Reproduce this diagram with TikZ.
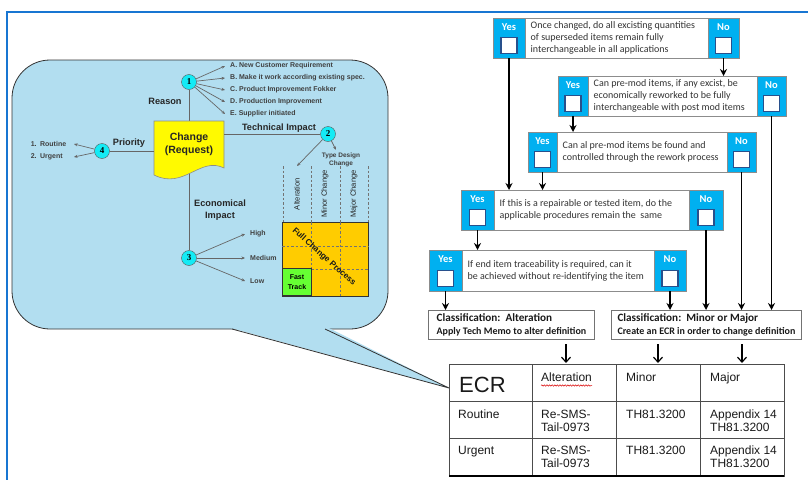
\documentclass[tikz,border=0pt]{standalone}
\usepackage{fontspec}
\setmainfont{Liberation Sans}
\newfontfamily\calibrifont{Carlito}
\newfontfamily\serifnum{Liberation Serif}
\usetikzlibrary{arrows.meta,decorations.pathmorphing}

\definecolor{bubble}{RGB}{178,222,240}
\definecolor{framblue}{RGB}{24,118,210}
\definecolor{qblue}{RGB}{0,176,240}
\definecolor{numcyan}{RGB}{20,235,245}
\definecolor{docyellow}{RGB}{255,250,0}
\definecolor{gridorange}{RGB}{255,204,0}
\definecolor{fastgreen}{RGB}{102,255,51}
\definecolor{ticknavy}{RGB}{40,80,140}

\begin{document}
\begin{tikzpicture}[x=1pt, y=-1pt,
    num/.style={circle, draw=black!65, fill=numcyan, minimum size=15pt, inner sep=0pt,
        font=\serifnum\bfseries\fontsize{9}{9}\selectfont},
    head/.style={font=\bfseries\fontsize{9.2}{11.5}\selectfont, text=black!85, align=center, inner sep=0pt},
    item/.style={font=\bfseries\fontsize{7}{8}\selectfont, text=black!75, inner xsep=5pt, inner ysep=1pt},
    lead/.style={draw=black!60, line width=0.7pt, -{Stealth[length=3.5pt, width=3pt]}},
    link/.style={draw=black!60, line width=0.8pt},
    colhead/.style={rotate=90, font=\fontsize{7.6}{8}\selectfont, text=black!85, inner sep=0pt},
    tdash/.style={draw=black!55, line width=0.6pt, dash pattern=on 2.5pt off 2pt},
    qframe/.style={draw=black!45, line width=0.8pt, fill=white, inner sep=0pt, outer sep=0pt, anchor=north west},
    qcol/.style={qframe, fill=qblue},
    yn/.style={text=white, font=\calibrifont\bfseries\fontsize{10.5}{10}\selectfont, inner sep=0pt},
    tickbox/.style={draw=ticknavy, line width=1.2pt, fill=white, minimum size=16pt, inner sep=0pt},
    qtext/.style={font=\calibrifont\fontsize{10}{12}\selectfont, text=black!80, align=left, anchor=west, inner sep=0pt},
    cls/.style={draw=black!55, line width=0.9pt, anchor=north west, minimum height=29pt, inner sep=0pt,
        align=left, text=black!90, font=\calibrifont\bfseries\fontsize{10}{13}\selectfont},
    flow/.style={line width=1.3pt, -{Stealth[length=7pt, width=7pt]}},
    tarrow/.style={line width=1.2pt, -{Straight Barb[length=5pt, width=9pt]}},
    tline/.style={draw=black!70, line width=0.8pt},
    cell/.style={anchor=base west, inner sep=0pt, align=left, text=black!90, font=\fontsize{12}{13.5}\selectfont}
]
    \useasboundingbox (0,0) rectangle (808,479);
    % frame
    \draw[framblue, line width=2pt] (6.5,490) -- (6.5,11.5) -- (820,11.5);

    % callout bubble
    \draw[draw=black!80, line width=0.8pt, fill=bubble, rounded corners=38pt] (12,60) rectangle (388,329);
    \fill[bubble] (229,327.5) -- (449,388) -- (328,327.5) -- cycle;
    \draw[black!80, line width=0.8pt] (232,329) -- (449,388) -- (325,329);

    % change request
    \node[num] (c1) at (189,82) {1};
    \node[num] (c2) at (328,134) {2};
    \node[num] (c3) at (189,258) {3};
    \node[num] (c4) at (102,151) {4};
    \draw[link] (c1) -- (c3);
    \draw[draw=black!45, line width=0.6pt, fill=docyellow] (154,121) -- (224,121) -- (224,168)
        .. controls (200,156) and (184,190) .. (154,175) -- cycle;
    \node[head, font=\bfseries\fontsize{10.5}{13}\selectfont, minimum width=70pt, minimum height=47pt, anchor=north]
        (chg) at (189,121) {Change\\(Request)};
    \draw[link] (c4) -- (c4 -| chg.west);
    \draw[link] (chg.east |- c2) -- (c2);

    \node[head] (rsn) at (165,101) {Reason};
    \node[head] (pri) at (129,143) {Priority};
    \node[head] (tech) at (279,128) {Technical Impact};
    \node[head] (econ) at (220,210) {Economical\\Impact};

    \foreach \t [count=\i] in {A. New Customer Requirement, B. Make it work according existing spec.,
        C. Product Improvement Fokker, D. Production Improvement, E. Supplier initiated} {
        \node[item, anchor=west] (why\i) at (225,{54+12*\i}) {\t};
        \draw[lead] (c1) -- (why\i.west);
    }
    \foreach \t/\y [count=\i] in {1. Routine/144, 2. Urgent/157} {
        \node[item, anchor=east, text width=38pt, align=left] (urg\i) at (74,\y) {\t};
        \draw[lead] (c4) -- (urg\i.east);
    }
    \foreach \t/\y [count=\i] in {High/234, Medium/258, Low/281} {
        \node[item, anchor=west] (cost\i) at (245,\y) {\t};
        \draw[lead] (c3) -- (cost\i.west);
    }

    % type design change
    \node[item, font=\bfseries\fontsize{6.5}{8}\selectfont, align=center, inner sep=3pt] (tdc) at (341,160) {Type Design\\Change};
    \coordinate (altTop) at (297,166);
    \draw[lead] (c2) -- (tdc);
    \draw[lead] (c2) -- (altTop);
    \foreach \t/\x [count=\i] in {Alteration/297, Minor Change/325, Major Change/354}
        \node[colhead] (col\i) at (\x,194) {\t};
    \foreach \x in {283,311,340,368}
        \draw[tdash] (\x,166) -- (\x,222);
    \draw[fill=gridorange, draw=black!80, line width=1pt] (282,222) rectangle (368,296);
    \draw[tdash] (311,222) -- (311,269);
    \draw[tdash] (340,222) -- (340,296);
    \draw[tdash] (282,246) -- (368,246);
    \draw[tdash] (311,269) -- (368,269);
    \node[draw=black!80, fill=fastgreen, line width=1pt, minimum width=29pt, minimum height=27pt, anchor=south west,
        inner sep=0pt, align=center, font=\bfseries\fontsize{7}{10}\selectfont] (fast) at (282,296) {Fast\\Track};
    \node[rotate=-42, font=\bfseries\fontsize{8.3}{9}\selectfont, text=black!90] (fcp) at (324,257) {Full Change Process};

    % decision boxes
    \foreach \i/\xa/\xb/\xc/\xd/\ya/\yb/\txt in {
        1/493/525/708/739/18/58/{Once changed, do all excisting quantities\\of superseded items remain fully\\interchangeable in all applications},
        2/558/588/757/786/76/116/{Can pre-mod items, if any excist, be\\economically reworked to be fully\\interchangeable with post mod items},
        3/528/557/727/756/132/172/{Can al pre-mod items be found and\\controlled through the rework process},
        4/461/494/689/723/190/230/{If this is a repairable or tested item, do the\\applicable procedures remain the\ \ same},
        5/429/462/654/686/250/291/{If end item traceability is required, can it\\be achieved without re-identifying the item}} {
        \node[qframe, minimum width=\xd-\xa, minimum height=\yb-\ya] (q\i) at (\xa,\ya) {};
        \node[qcol, minimum width=\xb-\xa, minimum height=\yb-\ya] (yes\i) at (\xa,\ya) {};
        \node[qcol, minimum width=\xd-\xc, minimum height=\yb-\ya] (no\i) at (\xc,\ya) {};
        \node[yn] (yl\i) at ({(\xa+\xb)/2},{\ya+8.7}) {Yes};
        \node[yn] (nl\i) at ({(\xc+\xd)/2},{\ya+8.7}) {No};
        \node[tickbox] (yb\i) at ({(\xa+\xb)/2},{\yb-12.5}) {};
        \node[tickbox] (nb\i) at ({(\xc+\xd)/2},{\yb-12.5}) {};
        \node[qtext] (qt\i) at ({\xb+5.5},{(\ya+\yb)/2}) {\txt};
    }
    \node[cls, minimum width=166pt] (clsA) at (428,310)
        {{\fontsize{11.2}{13}\selectfont Classification:\ \ Alteration}\\Apply Tech Memo to alter definition};
    \node[cls, minimum width=190pt] (clsB) at (611,310)
        {{\fontsize{11.2}{13}\selectfont Classification:\ \ Minor or Major}\\Create an ECR in order to change definition};

    \draw[flow] (no1) -- (no1 |- q2.north);
    \draw[flow] (yes1) -- (yes1 |- q4.north);
    \draw[flow] (yes2) -- (yes2 |- q3.north);
    \draw[flow] (no2) -- (no2 |- clsB.north);
    \draw[flow] (yes3) -- (yes3 |- q4.north);
    \draw[flow] (no3) -- (no3 |- clsB.north);
    \draw[flow] (yes4) -- (yes4 |- q5.north);
    \draw[flow] (no4) -- (no4 |- clsB.north);
    \draw[flow] (yes5) -- (yes5 |- clsA.north);
    \draw[flow] (no5) -- (no5 |- clsB.north);

    % ECR table
    \foreach \x in {566,658,742}
        \draw[tarrow] (\x,344) -- (\x,363);
    \draw[tline] (449,364) rectangle (784,476);
    \foreach \x in {532,616,700}
        \draw[tline] (\x,364) -- (\x,476);
    \foreach \y in {401,438}
        \draw[tline] (449,\y) -- (784,\y);
    \draw[black, line width=1.3pt] (449,476) -- (784,476);
    \node[cell, font=\fontsize{22}{24}\selectfont] (ecr) at (459,392) {ECR};
    \node[cell] (hAlt) at (541,381.6) {Alteration};
    \node[cell] (hMin) at (626,381.6) {Minor};
    \node[cell] (hMaj) at (710,381.6) {Major};
    \draw[red!85!black, line width=0.5pt, decorate, decoration={snake, amplitude=0.7pt, segment length=2.6pt}]
        (541,385.5) -- (592,385.5);
    \foreach \r/\y [count=\i] in {Routine/418, Urgent/454.3} {
        \node[cell] (pr\i) at (458,\y) {\r};
        \node[cell] (alt\i) at (541,{\y+13.5}) {Re-SMS-\\Tail-0973};
        \node[cell] (min\i) at (626,\y) {TH81.3200};
        \node[cell] (maj\i) at (710,{\y+13.5}) {Appendix 14\\TH81.3200};
    }
\end{tikzpicture}
\end{document}
